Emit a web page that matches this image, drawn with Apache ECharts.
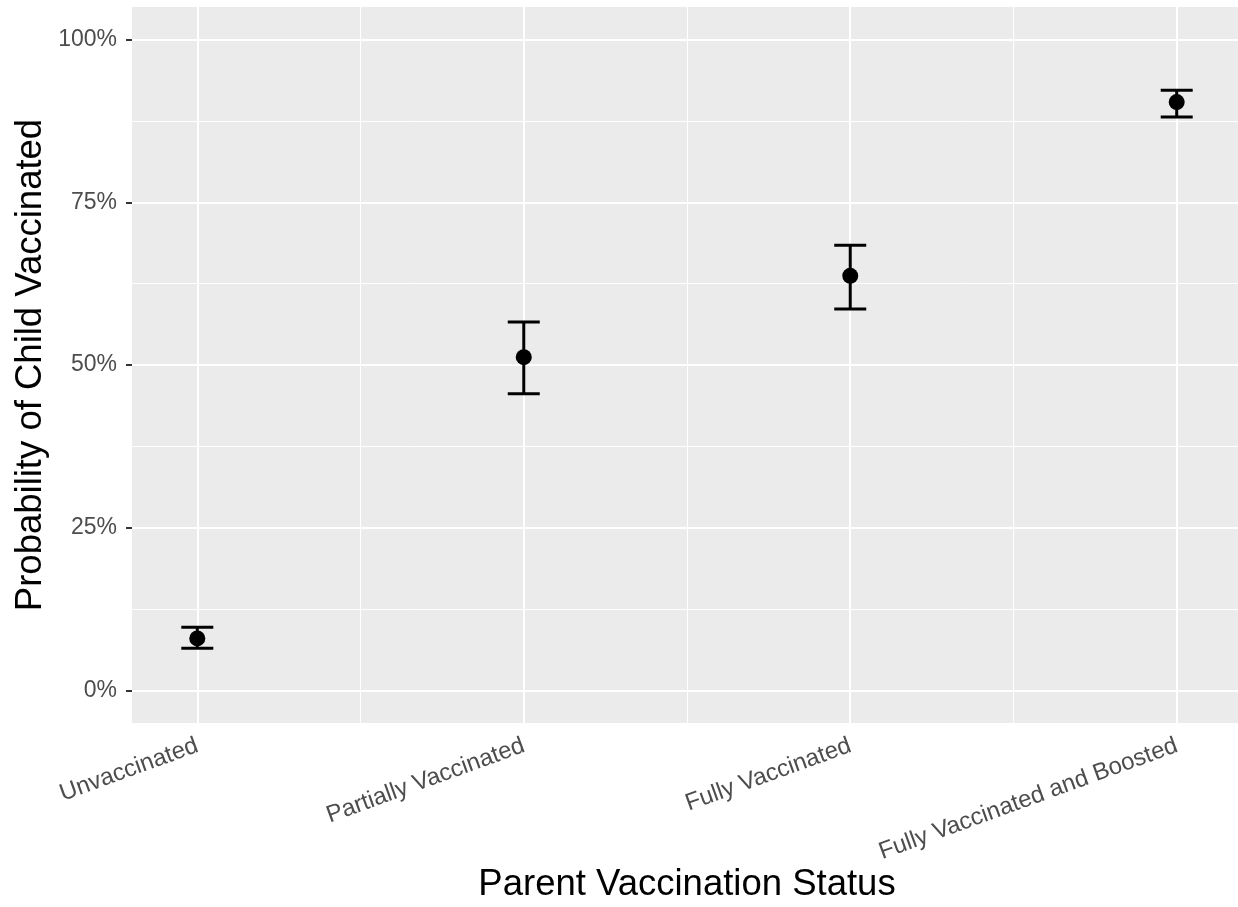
<!DOCTYPE html>
<html>
<head>
<meta charset="utf-8">
<script src="https://cdn.jsdelivr.net/npm/echarts@6/dist/echarts.min.js"></script>
<style>
html,body{margin:0;padding:0;background:#fff;}
#chart{width:1238px;height:907px;}
</style>
</head>
<body>
<div id="chart"></div>
<script>
// ---- data ----
var categories = ['Unvaccinated', 'Partially Vaccinated', 'Fully Vaccinated', 'Fully Vaccinated and Boosted'];
var estimate = [8.0, 51.2, 63.7, 90.4];
var lower = [6.5, 45.6, 58.6, 88.1];
var upper = [9.7, 56.6, 68.4, 92.2];
var yTicks = [0, 25, 50, 75, 100];
var yMinor = [12.5, 37.5, 62.5, 87.5];
var xTicks = [1, 2, 3, 4];
var xMinor = [1.5, 2.5, 3.5];

var FONT = 'Liberation Sans, Arial, Helvetica, sans-serif';

var pointData = estimate.map(function (v, i) { return [i + 1, v]; });
var barData = estimate.map(function (v, i) { return [i + 1, lower[i], upper[i]]; });

var gridLines = []
  .concat(yTicks.map(function (v) { return { yAxis: v, lineStyle: { width: 2 } }; }))
  .concat(yMinor.map(function (v) { return { yAxis: v, lineStyle: { width: 1 } }; }))
  .concat(xTicks.map(function (v) { return { xAxis: v, lineStyle: { width: 2 } }; }))
  .concat(xMinor.map(function (v) { return { xAxis: v, lineStyle: { width: 1 } }; }));

var chart = echarts.init(document.getElementById('chart'), null, { renderer: 'canvas' });
chart.setOption({
  animation: false,
  backgroundColor: '#ffffff',
  textStyle: { fontFamily: FONT },
  grid: {
    show: true, backgroundColor: '#ebebeb', borderWidth: 0,
    left: 132, top: 7, width: 1110, height: 716, containLabel: false,
    outerBoundsMode: 'none'
  },
  xAxis: {
    type: 'value', min: 0.8, max: 4.2,
    name: 'Parent Vaccination Status', nameLocation: 'middle', nameGap: 143,
    nameMoveOverlap: false,
    nameTextStyle: { fontSize: 36.5, color: '#000', fontFamily: FONT, verticalAlign: 'top' },
    axisLine: { show: false },
    splitLine: { show: false },
    axisTick: { show: true, customValues: xTicks, length: 6, lineStyle: { color: '#333', width: 2 } },
    axisLabel: {
      customValues: xTicks, rotate: 20, margin: 22, fontSize: 24, color: '#4d4d4d', fontFamily: FONT,
      formatter: function (v) { return categories[Math.round(v) - 1] || ''; }
    }
  },
  yAxis: {
    type: 'value', min: -5, max: 105,
    name: 'Probability of Child Vaccinated', nameLocation: 'middle', nameGap: 83,
    nameMoveOverlap: false,
    nameTextStyle: { fontSize: 36.5, color: '#000', fontFamily: FONT },
    axisLine: { show: false },
    splitLine: { show: false },
    axisTick: { show: true, customValues: yTicks, length: 6, lineStyle: { color: '#333', width: 2 } },
    axisLabel: {
      customValues: yTicks, margin: 15, fontSize: 23, color: '#4d4d4d', fontFamily: FONT,
      formatter: function (v) { return v + '%'; }
    }
  },
  series: [
    {
      type: 'line', data: pointData, z: 1, silent: true,
      symbol: 'none', lineStyle: { opacity: 0 },
      markLine: {
        z: 1, silent: true, symbol: ['none', 'none'], animation: false,
        label: { show: false },
        lineStyle: { color: '#ffffff', type: 'solid' },
        data: gridLines
      }
    },
    {
      type: 'custom', z: 6, data: barData,
      renderItem: function (params, api) {
        var x = api.value(0);
        var pLo = api.coord([x, api.value(1)]);
        var pHi = api.coord([x, api.value(2)]);
        var hw = 16;
        var st = { stroke: '#000', lineWidth: 3, fill: null };
        return {
          type: 'group', children: [
            { type: 'line', shape: { x1: pLo[0], y1: pLo[1], x2: pHi[0], y2: pHi[1] }, style: st },
            { type: 'line', shape: { x1: pLo[0] - hw, y1: pLo[1], x2: pLo[0] + hw, y2: pLo[1] }, style: st },
            { type: 'line', shape: { x1: pHi[0] - hw, y1: pHi[1], x2: pHi[0] + hw, y2: pHi[1] }, style: st }
          ]
        };
      }
    },
    {
      type: 'scatter', z: 7, data: pointData, symbol: 'circle', symbolSize: 16,
      itemStyle: { color: '#000', opacity: 1 }
    }
  ]
});
</script>
</body>
</html>
